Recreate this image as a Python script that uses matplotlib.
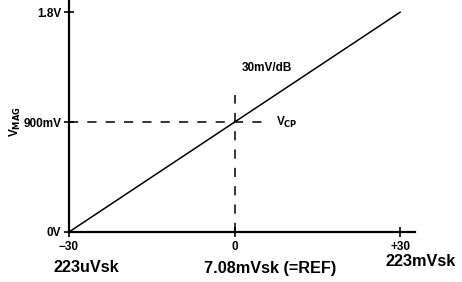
import matplotlib.pyplot as plt

# datos de la curva (dB relativo a REF, voltaje en V)
x_db = [-30, 30]
v_mag = [0.0, 1.8]

# ticks
x_ticks = [-30, 0, 30]
x_tick_labels = ['\u221230', '0', '+30']
y_ticks = [0.0, 0.9, 1.8]
y_tick_labels = ['0V', '900mV', '1.8V']

# punto de referencia
x_ref = 0
v_cp = 0.9

plt.rcParams['font.family'] = ['Liberation Sans', 'DejaVu Sans']

fig = plt.figure(figsize=(4.62, 2.82), dpi=100)
ax = fig.add_axes([69 / 462, 50 / 282, 346 / 462, 232 / 282])

ax.plot(x_db, v_mag, color='black', lw=1.1)
ax.plot([-30, 5.5], [v_cp, v_cp], color='black', lw=1.1, ls=(0, (6, 6)))
ax.plot([x_ref, x_ref], [0, 1.12], color='black', lw=1.1, ls=(0, (6, 6)))

ax.set_xlim(-30, 32.7)
ax.set_ylim(0, 1.9)
ax.spines['top'].set_visible(False)
ax.spines['right'].set_visible(False)
for s in ['left', 'bottom']:
    ax.spines[s].set_linewidth(1.6)

ax.set_xticks(x_ticks)
ax.set_xticklabels(x_tick_labels, fontsize=8.5, fontweight='bold')
ax.set_yticks(y_ticks)
ax.set_yticklabels(y_tick_labels, fontsize=8.5, fontweight='bold')
ax.tick_params(axis='both', direction='inout', length=7, width=1.2, pad=2)
ax.tick_params(axis='x', pad=3)

ax.text(1.3, 1.34, '30mV/dB', fontsize=8.5, fontweight='bold', va='center')
ax.text(7.5, v_cp, r'V$_{\mathbf{CP}}$', fontsize=8.5, fontweight='bold', va='center')
fig.text(15 / 462, 1 - 122 / 282, r'V$_{\mathbf{MAG}}$', fontsize=8.5, fontweight='bold',
         rotation=90, ha='center', va='center')

fig.text(86 / 462, 1 - 268 / 282, '223uVsk', fontsize=11.7, fontweight='bold',
         ha='center', va='center')
fig.text(270 / 462, 1 - 268 / 282, '7.08mVsk (=REF)', fontsize=11.7, fontweight='bold',
         ha='center', va='center')
fig.text(421 / 462, 1 - 262 / 282, '223mVsk', fontsize=11.7, fontweight='bold',
         ha='center', va='center')

fig.savefig('out.png', dpi=100)
